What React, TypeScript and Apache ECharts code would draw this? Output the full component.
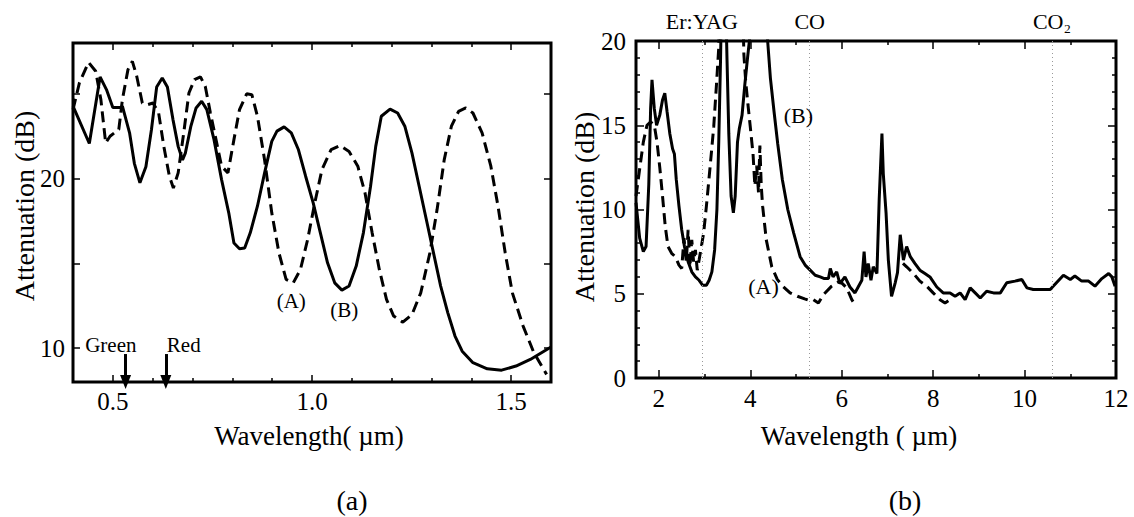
import React, { useEffect, useRef } from 'react';
import * as echarts from 'echarts';

const FONT = 'Liberation Serif';

// ---------- Panel (a) data: wavelength (µm) vs attenuation (dB) ----------
const aCurveB: [number, number][] = [
  [0.400, 24.27], [0.441, 22.07], [0.468, 26.0], [0.484, 25.25], [0.500, 24.2], [0.520, 24.2], [0.524, 24.27],
  [0.542, 22.7], [0.554, 20.9], [0.568, 19.75], [0.583, 20.7], [0.597, 22.9], [0.610, 25.4], [0.624, 25.94],
  [0.637, 25.4], [0.651, 23.48], [0.664, 21.9], [0.675, 21.1], [0.682, 21.5], [0.696, 23.1], [0.709, 24.17],
  [0.723, 24.56], [0.736, 24.07], [0.754, 22.3], [0.773, 19.94], [0.791, 17.98], [0.804, 16.2], [0.818, 15.86],
  [0.831, 15.9], [0.845, 16.8], [0.863, 18.37], [0.881, 20.34], [0.899, 22.2], [0.912, 22.8], [0.930, 23.05],
  [0.948, 22.7], [0.966, 21.7], [0.984, 20.14], [1.003, 18.57], [1.021, 16.8], [1.039, 15.03], [1.057, 13.85],
  [1.075, 13.42], [1.093, 13.66], [1.111, 14.84], [1.129, 16.8], [1.147, 19.55], [1.160, 21.9], [1.174, 23.68],
  [1.196, 24.1], [1.215, 23.87], [1.233, 23.09], [1.251, 21.5], [1.269, 19.55], [1.287, 17.59], [1.305, 15.62],
  [1.323, 13.66], [1.341, 12.08], [1.359, 10.71], [1.377, 9.82], [1.404, 9.14], [1.440, 8.78], [1.476, 8.7],
  [1.512, 8.94], [1.548, 9.33], [1.600, 10.06],
];
const aCurveA: [number, number][] = [
  [0.400, 24.07], [0.416, 25.64], [0.439, 26.86], [0.457, 26.33], [0.470, 24.66], [0.482, 22.1], [0.493, 22.5],
  [0.515, 22.9], [0.524, 24.66], [0.538, 26.43], [0.549, 26.92], [0.560, 26.04], [0.574, 24.46], [0.587, 24.36],
  [0.601, 24.46], [0.615, 23.87], [0.628, 21.9], [0.642, 20.14], [0.652, 19.45], [0.664, 20.34], [0.678, 22.7],
  [0.691, 25.05], [0.705, 25.84], [0.720, 26.0], [0.732, 25.45], [0.745, 23.87], [0.759, 22.3], [0.773, 20.73],
  [0.789, 20.34], [0.804, 22.3], [0.818, 24.07], [0.836, 25.0], [0.849, 24.95], [0.863, 23.68], [0.881, 21.1],
  [0.899, 17.98], [0.917, 15.62], [0.935, 14.05], [0.953, 13.85], [0.971, 14.64], [0.989, 16.4], [1.007, 18.57],
  [1.025, 20.53], [1.048, 21.71], [1.070, 21.95], [1.093, 21.6], [1.115, 20.73], [1.133, 19.16], [1.151, 16.8],
  [1.169, 14.64], [1.187, 12.87], [1.205, 11.89], [1.228, 11.53], [1.251, 11.98], [1.273, 13.26], [1.296, 15.62],
  [1.314, 18.17], [1.332, 21.12], [1.350, 23.09], [1.368, 23.97], [1.386, 24.17], [1.404, 23.87], [1.427, 22.7],
  [1.449, 20.73], [1.467, 18.37], [1.485, 15.62], [1.503, 13.26], [1.530, 11.3], [1.557, 9.73], [1.589, 8.45],
];
const aXMajor = [0.5, 1.0, 1.5];
const aXMinor = [0.6, 0.7, 0.8, 0.9, 1.1, 1.2, 1.3, 1.4];
const aYTicks = [10, 15, 20, 25];
const aYLabels = [10, 20];
const laserLines = [0.532, 0.633]; // green, red
const aNotes: [number, number, string][] = [
  [0.495, 10.2, 'Green'], [0.678, 10.2, 'Red'], [0.948, 12.76, '(A)'], [1.081, 12.27, '(B)'],
];

// ---------- Panel (b) data ----------
const bCurveB: [number, number][] = [
  [1.5, 10.4], [1.58, 8.3], [1.66, 7.5], [1.72, 7.8], [1.78, 11.5], [1.82, 16.0], [1.85, 17.7], [1.9, 16.0],
  [1.95, 15.0], [2.02, 15.6], [2.08, 16.5], [2.13, 16.9], [2.18, 15.8], [2.24, 14.5], [2.3, 13.6], [2.34, 13.3],
  [2.38, 11.8], [2.44, 10.2], [2.5, 8.8], [2.56, 7.8], [2.64, 6.9], [2.72, 6.3], [2.8, 6.0], [2.88, 5.8],
  [2.96, 5.5], [3.04, 5.5], [3.1, 5.8], [3.16, 6.3], [3.22, 7.6], [3.27, 10.0], [3.31, 14.0], [3.35, 19.0],
  [3.38, 24], [3.45, 24], [3.49, 19], [3.53, 14.5], [3.58, 10.8], [3.63, 9.8], [3.67, 10.8], [3.72, 14.0],
  [3.76, 14.8], [3.82, 15.6], [3.88, 17.4], [3.94, 19.0], [4.0, 20.5], [4.05, 24], [4.32, 24], [4.38, 20],
  [4.44, 17.8], [4.52, 15.8], [4.6, 13.9], [4.7, 11.8], [4.82, 10.0], [4.95, 8.6], [5.09, 7.2], [5.2, 6.7],
  [5.31, 6.4], [5.42, 6.1], [5.53, 6.0], [5.62, 5.9], [5.71, 5.9], [5.75, 6.5], [5.81, 6.0], [5.89, 6.3],
  [5.96, 5.6], [6.07, 6.0], [6.18, 5.4], [6.29, 5.05], [6.36, 5.4], [6.44, 5.8], [6.49, 7.5], [6.53, 6.0],
  [6.58, 6.8], [6.64, 5.8], [6.69, 6.6], [6.77, 6.2], [6.82, 10.6], [6.88, 14.5], [6.91, 12.1], [6.97, 9.8],
  [7.02, 7.0], [7.09, 4.85], [7.17, 5.65], [7.22, 6.25], [7.28, 8.5], [7.35, 7.0], [7.42, 7.8], [7.5, 7.2],
  [7.6, 6.8], [7.71, 6.4], [7.82, 6.2], [7.93, 6.0], [8.08, 5.4], [8.22, 5.05], [8.37, 5.05], [8.48, 4.85],
  [8.59, 5.05], [8.7, 4.65], [8.81, 5.35], [8.92, 5.05], [9.03, 4.75], [9.17, 5.15], [9.32, 5.05], [9.47, 5.05],
  [9.61, 5.65], [9.79, 5.75], [9.94, 5.85], [10.05, 5.35], [10.19, 5.25], [10.56, 5.25], [10.85, 6.1],
  [11.0, 5.85], [11.1, 6.05], [11.25, 5.75], [11.4, 5.75], [11.54, 5.45], [11.69, 5.9], [11.84, 6.2],
  [11.91, 6.0], [11.98, 5.45],
];
const bCurveA: [number, number | string][] = [
  [1.5, 10.8], [1.58, 12.4], [1.66, 14.0], [1.74, 15.0], [1.82, 15.2], [1.9, 15.0], [1.96, 14.0], [2.02, 12.5],
  [2.08, 10.8], [2.14, 9.0], [2.2, 7.8], [2.28, 7.4], [2.36, 7.2], [2.44, 6.7], [2.5, 6.5], [2.55, 8.3],
  [2.6, 6.9], [2.64, 8.8], [2.68, 6.6], [2.72, 8.2], [2.76, 6.9], [2.8, 7.6], [2.84, 6.4], [2.88, 7.0],
  [2.93, 7.8], [2.98, 8.6], [3.04, 10.2], [3.12, 12.5], [3.2, 14.9], [3.26, 17.4], [3.31, 19.6], [3.34, 24],
  [3.82, 24], [3.86, 19.2], [3.9, 17.6], [3.95, 16.2], [4.0, 14.9], [4.06, 13.3], [4.1, 11.4], [4.14, 12.6],
  [4.18, 11.0], [4.21, 13.8], [4.24, 11.4], [4.27, 10.2], [4.35, 8.2], [4.47, 6.6], [4.59, 5.85], [4.71, 5.45],
  [4.87, 5.05], [5.03, 4.85], [5.19, 4.7], [5.3, 4.6], [5.38, 4.65], [5.49, 4.45], [5.6, 4.95], [5.78, 5.45],
  [5.96, 5.75], [6.11, 5.35], [6.22, 4.65], [6.31, 4.26], [6.8, '-'], [7.34, 6.8], [7.42, 6.6], [7.57, 6.2],
  [7.71, 5.75], [7.86, 5.45], [8.0, 5.05], [8.15, 4.65], [8.26, 4.45], [8.37, 4.65],
];
const bXMajor = [2, 4, 6, 8, 10, 12];
const bXMinor = [3, 5, 7, 9, 11];
const bYMajor = [0, 5, 10, 15, 20];
const bYMinor = [1, 2, 3, 4, 6, 7, 8, 9, 11, 12, 13, 14, 16, 17, 18, 19];
const laserNames = ['Er:YAG', 'CO', 'CO₂'];
const laserWavelengths = [2.94, 5.3, 10.6];
const bNotes: [number, number, string][] = [[4.29, 5.43, '(A)'], [5.05, 15.6, '(B)']];

const tickStyle = { color: '#000', width: 1.5 };

function axis(gridIndex: number, position: string, min: number, max: number, ticks: number[], len: number,
  labels?: number[], fmt?: (v: number) => string, margin = 7) {
  return {
    type: 'value', gridIndex, position, min, max,
    axisLine: { show: false, onZero: false },
    splitLine: { show: false },
    axisTick: { show: true, inside: true, length: len, customValues: ticks, lineStyle: tickStyle },
    axisLabel: labels
      ? { show: true, customValues: labels, formatter: fmt, fontFamily: FONT, fontSize: 25, color: '#000', margin }
      : { show: false },
  };
}

const lineStyleSolid = { color: '#000', width: 3 };
const lineStyleDash = { color: '#000', width: 3, type: [11, 6] };
const noteItem = { color: 'rgba(0,0,0,0)', opacity: 1 };

export default function App() {
  const ref = useRef<HTMLDivElement>(null);
  useEffect(() => {
    document.body.style.margin = '0';
    const chart = echarts.init(ref.current!, null, { renderer: 'svg' });
    const f1 = (v: number) => v.toFixed(1);
    const f0 = (v: number) => String(v);
    const noteLabel = (size: number) => ({
      show: true, position: 'inside', formatter: (p: any) => p.value[2],
      fontFamily: FONT, fontSize: size, color: '#000', opacity: 1, textBorderWidth: 0,
    });
    chart.setOption({
      animation: false,
      backgroundColor: '#fff',
      grid: [
        { left: 73, top: 43, width: 478, height: 339, show: true, borderColor: '#000', borderWidth: 3, backgroundColor: 'transparent' },
        { left: 636, top: 41, width: 480, height: 337, show: true, borderColor: '#000', borderWidth: 3, backgroundColor: 'transparent' },
      ],
      xAxis: [
        axis(0, 'bottom', 0.4, 1.6, aXMajor, 7, aXMajor, f1, 7),
        axis(0, 'bottom', 0.4, 1.6, aXMinor, 4),
        axis(0, 'top', 0.4, 1.6, aXMajor, 7),
        axis(0, 'top', 0.4, 1.6, aXMinor, 4),
        axis(1, 'bottom', 1.5, 12, bXMajor, 8, bXMajor, f0, 8),
        axis(1, 'bottom', 1.5, 12, bXMinor, 4),
        axis(1, 'top', 1.5, 12, bXMajor, 8),
        axis(1, 'top', 1.5, 12, bXMinor, 4),
      ],
      yAxis: [
        axis(0, 'left', 8, 28, aYTicks, 7, aYLabels, f0, 8),
        axis(0, 'right', 8, 28, aYTicks, 7),
        axis(1, 'left', 0, 20, bYMajor, 8, bYMajor, f0, 10),
        axis(1, 'left', 0, 20, bYMinor, 4),
        axis(1, 'right', 0, 20, bYMajor, 8),
        axis(1, 'right', 0, 20, bYMinor, 4),
      ],
      series: [
        {
          name: 'a-B', type: 'line', xAxisIndex: 0, yAxisIndex: 0, data: aCurveB, showSymbol: false, symbol: 'none',
          lineStyle: lineStyleSolid, silent: true, z: 3,
        },
        {
          name: 'a-A', type: 'line', xAxisIndex: 0, yAxisIndex: 0, data: aCurveA, showSymbol: false, symbol: 'none',
          lineStyle: lineStyleDash, silent: true, z: 3,
        },
        {
          name: 'a-lasers', type: 'line', xAxisIndex: 0, yAxisIndex: 0, data: [], silent: true,
          markLine: {
            silent: true, symbol: ['none', 'triangle'], symbolSize: [11, 14], label: { show: false },
            lineStyle: { color: '#000', width: 3, type: 'solid' },
            data: laserLines.map((w) => [{ coord: [w, 9.65] }, { coord: [w, 8.0] }]),
          },
        },
        {
          name: 'a-notes', type: 'scatter', xAxisIndex: 0, yAxisIndex: 0, symbolSize: 1, silent: true,
          itemStyle: noteItem, data: aNotes, label: noteLabel(21),
        },
        {
          name: 'b-B', type: 'line', xAxisIndex: 4, yAxisIndex: 2, data: bCurveB, showSymbol: false, symbol: 'none',
          lineStyle: lineStyleSolid, silent: true, z: 3,
        },
        {
          name: 'b-A', type: 'line', xAxisIndex: 4, yAxisIndex: 2, data: bCurveA, showSymbol: false, symbol: 'none',
          lineStyle: lineStyleDash, silent: true, z: 3, connectNulls: false,
        },
        {
          name: 'b-lasers', type: 'line', xAxisIndex: 4, yAxisIndex: 2, data: [], silent: true,
          markLine: {
            silent: true, symbol: 'none',
            lineStyle: { color: '#999', width: 1, type: [1, 3] },
            label: {
              show: true, position: 'end', formatter: '{b}', fontFamily: FONT, fontSize: 22, color: '#000', distance: 9,
            },
            data: laserWavelengths.map((w, i) => ({ xAxis: w, name: laserNames[i] })),
          },
        },
        {
          name: 'b-notes', type: 'scatter', xAxisIndex: 4, yAxisIndex: 2, symbolSize: 1, silent: true,
          itemStyle: noteItem, data: bNotes, label: noteLabel(22),
        },
      ],
      graphic: [
        { type: 'text', x: 24, y: 206, rotation: Math.PI / 2, style: { text: 'Attenuation (dB)', fontFamily: FONT, fontSize: 28, fill: '#000', align: 'center', verticalAlign: 'middle' } },
        { type: 'text', x: 584, y: 207, rotation: Math.PI / 2, style: { text: 'Attenuation (dB)', fontFamily: FONT, fontSize: 28, fill: '#000', align: 'center', verticalAlign: 'middle' } },
        { type: 'text', x: 309, y: 436, style: { text: 'Wavelength( µm)', fontFamily: FONT, fontSize: 27, fill: '#000', align: 'center', verticalAlign: 'middle' } },
        { type: 'text', x: 859, y: 436, style: { text: 'Wavelength ( µm)', fontFamily: FONT, fontSize: 27, fill: '#000', align: 'center', verticalAlign: 'middle' } },
        { type: 'text', x: 352, y: 500, style: { text: '(a)', fontFamily: FONT, fontSize: 28, fill: '#000', align: 'center', verticalAlign: 'middle' } },
        { type: 'text', x: 905, y: 500, style: { text: '(b)', fontFamily: FONT, fontSize: 28, fill: '#000', align: 'center', verticalAlign: 'middle' } },
      ],
    });
    return () => chart.dispose();
  }, []);
  return <div ref={ref} style={{ width: 1134, height: 517 }} />;
}
